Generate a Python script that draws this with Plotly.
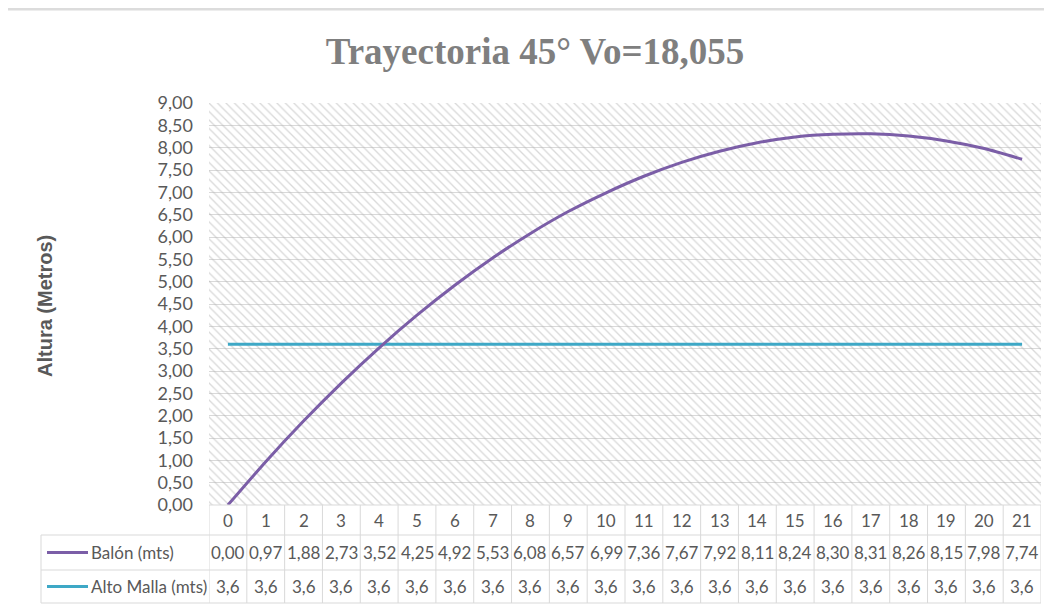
import plotly.graph_objects as go

# data
categories = list(range(22))
balon = [0.00, 0.97, 1.88, 2.73, 3.52, 4.25, 4.92, 5.53, 6.08, 6.57, 6.99,
         7.36, 7.67, 7.92, 8.11, 8.24, 8.30, 8.31, 8.26, 8.15, 7.98, 7.74]
malla = [3.6, 3.6, 3.6, 3.6, 3.6, 3.6, 3.6, 3.6, 3.6, 3.6, 3.6,
         3.6, 3.6, 3.6, 3.6, 3.6, 3.6, 3.6, 3.6, 3.6, 3.6, 3.6]
series_names = ["Balón (mts)", "Alto Malla (mts)"]
y_range = [0, 9]

PURPLE = "#7b5ea7"
CYAN = "#3ea8c6"
GRID = "#d9d9d9"
TEXT = "#595959"
FONT = "Lato, 'Open Sans', sans-serif"

# the page body adds an 8px margin, so the figure is laid out in page pixels minus OFF
OFF = 8
W, H = 1052 - OFF, 613 - OFF
PLOT_L, PLOT_R, PLOT_T, PLOT_B = 209, 1041, 103, 505  # page pixels
L, R, T, B = PLOT_L - OFF, W - (PLOT_R - OFF), PLOT_T - OFF, H - (PLOT_B - OFF)
PW, PH = W - L - R, H - T - B


def px_x(px):  # page pixel -> paper x
    return (px - OFF - L) / PW


def px_y(py):  # page pixel -> paper y
    return (H - B - (py - OFF)) / PH


x_lo, x_hi = categories[0] - 0.5, categories[-1] + 0.5

fig = go.Figure()

# hatched plot-area background
fig.add_trace(go.Scatter(
    x=[x_lo, x_hi, x_hi, x_lo, x_lo],
    y=[y_range[0], y_range[0], y_range[1], y_range[1], y_range[0]],
    mode="lines", line=dict(width=0), fill="toself", fillcolor="rgba(0,0,0,0)",
    fillpattern=dict(shape="\\", fgcolor="#b3b3b3", size=6, solidity=0.22),
    hoverinfo="skip", showlegend=False,
))

fig.add_trace(go.Scatter(
    x=categories, y=malla, mode="lines", name=series_names[1],
    line=dict(color=CYAN, width=3),
))
fig.add_trace(go.Scatter(
    x=categories, y=balon, mode="lines", name=series_names[0],
    line=dict(color=PURPLE, width=3, shape="spline", smoothing=0.6),
))

fig.update_layout(
    width=W, height=H,
    margin=dict(l=L, r=R, t=T, b=B),
    paper_bgcolor="white", plot_bgcolor="white",
    separators=", ",
    showlegend=False,
    font=dict(family=FONT, color=TEXT, size=17),
    title=dict(
        text="Trayectoria 45° Vo=18,055",
        x=(535 - OFF) / W, xanchor="center", y=1 - (51 - OFF) / H, yanchor="middle",
        font=dict(family="'Liberation Serif', 'DejaVu Serif', serif", size=37,
                  color="#7f7f7f", weight="bold"),
    ),
    xaxis=dict(range=[x_lo, x_hi], showgrid=False, zeroline=False,
               showticklabels=False, showline=False, fixedrange=True),
    yaxis=dict(range=y_range, dtick=0.5, tickformat=".2f", showgrid=True,
               gridcolor=GRID, gridwidth=1, zeroline=False, showline=False,
               ticklabelstandoff=15, tickfont=dict(size=18, color=TEXT)),
)

# y axis title
fig.add_annotation(
    text="<b>Altura (Metros)</b>", xref="paper", yref="paper",
    x=px_x(45), y=px_y(306), xanchor="center", yanchor="middle",
    textangle=-90, showarrow=False,
    font=dict(family="'Liberation Sans', Arial, sans-serif", size=20, color=TEXT),
)

# data table below the plot
row_top = [505, 535, 570]
row_bot = [535, 570, 603]
row_mid = [(a + b) / 2 for a, b in zip(row_top, row_bot)]
tbl_left = 41

line_style = dict(color=GRID, width=1)
fig.add_shape(type="line", xref="paper", yref="paper", x0=0, x1=1,
              y0=px_y(505), y1=px_y(505), line=line_style)
for py in row_bot:
    fig.add_shape(type="line", xref="paper", yref="paper", x0=px_x(tbl_left), x1=1,
                  y0=px_y(py), y1=px_y(py), line=line_style)
fig.add_shape(type="line", xref="paper", yref="paper", x0=px_x(tbl_left), x1=px_x(tbl_left),
              y0=px_y(535), y1=px_y(603), line=line_style)
for edge in [x_lo] + [c + 0.5 for c in categories]:
    fig.add_shape(type="line", xref="x", yref="paper", x0=edge, x1=edge,
                  y0=px_y(505), y1=px_y(603), line=line_style)

cell_font = dict(family=FONT, size=17, color=TEXT)
cell = dict(xref="x", yref="paper", xanchor="center", yanchor="middle",
            showarrow=False, font=cell_font)
for i, c in enumerate(categories):
    fig.add_annotation(text=str(c), x=c, y=px_y(row_mid[0]), **cell)
    fig.add_annotation(text=f"{balon[i]:.2f}".replace(".", ","), x=c, y=px_y(row_mid[1]), **cell)
    fig.add_annotation(text=f"{malla[i]:.1f}".replace(".", ","), x=c, y=px_y(row_mid[2]), **cell)

# legend keys in the table
for name, color, ym in [(series_names[0], PURPLE, row_mid[1]), (series_names[1], CYAN, row_mid[2])]:
    fig.add_shape(type="line", xref="paper", yref="paper", x0=px_x(47), x1=px_x(88),
                  y0=px_y(ym), y1=px_y(ym), line=dict(color=color, width=3))
    fig.add_annotation(text=name, xref="paper", yref="paper", x=px_x(89), y=px_y(ym),
                       xanchor="left", yanchor="middle", showarrow=False, font=cell_font)

# chart frame (top edge)
fig.add_shape(type="line", xref="paper", yref="paper", x0=px_x(OFF), x1=px_x(1052),
              y0=px_y(OFF + 1), y1=px_y(OFF + 1), line=dict(color="#dcdcdc", width=3))

fig.write_html("out.html")
